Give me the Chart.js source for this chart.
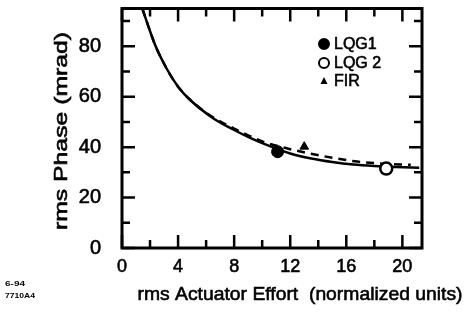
<!DOCTYPE html>
<html>
<head>
<meta charset="utf-8">
<script src="https://cdn.jsdelivr.net/npm/chart.js@4.4.0/dist/chart.umd.min.js"></script>
<style>
  html, body { margin: 0; padding: 0; background: #fff; }
</style>
</head>
<body>
<canvas id="myChart" width="465" height="315"></canvas>
<script>
// theory curve (solid)
const solidX = [1.45, 2.0, 2.4, 3.2, 4.0, 4.9, 6.5, 8.0, 9.1, 10.5, 12.0, 13.5, 15.0, 16.5, 18.0, 19.5, 21.2];
const solidY = [95, 86, 80, 71, 64, 58.5, 51.5, 46.8, 43.8, 40.5, 37.5, 35.5, 34.1, 33.1, 32.5, 32.1, 31.8];
// second curve (dashed)
const dashX = [1.45, 2.0, 2.4, 3.2, 4.0, 4.9, 6.5, 8.0, 9.0, 10.1, 12.0, 13.2, 15.0, 16.6, 18.0, 19.9, 20.6];
const dashY = [95, 86, 80, 71, 64, 58.6, 51.8, 47.4, 44.7, 42.1, 39.2, 37.7, 35.8, 34.4, 33.7, 33.1, 33.0];
// measured points
const pointLabels = ["LQG1", "LQG 2", "FIR"];
const pointX = [11.1, 18.85, 13.0];
const pointY = [38.2, 31.5, 40.2];
// axis ticks
const xTicks = [0, 4, 8, 12, 16, 20];
const xMinor = [2, 6, 10, 14, 18];
const yTicks = [0, 20, 40, 60, 80];
const yMinor = [10, 30, 50, 70, 90];

const FONT = "'Liberation Sans', Arial, Helvetica, sans-serif";

const toXY = (xs, ys) => xs.map((x, i) => ({ x: x, y: ys[i] }));

// box + inward tick marks, legend inside plot, axis titles
const frame = {
  id: "frame",
  beforeDatasetsDraw(chart) {
    const { ctx, chartArea: a, scales } = chart;
    ctx.save();
    ctx.strokeStyle = "#000";
    ctx.lineWidth = 2.5;
    ctx.lineCap = "butt";
    const xs = scales.x, ys = scales.y;
    const tick = (vals, len) => {
      vals.forEach(v => {
        const px = xs.getPixelForValue(v);
        ctx.beginPath();
        ctx.moveTo(px, a.bottom); ctx.lineTo(px, a.bottom - len);
        ctx.moveTo(px, a.top); ctx.lineTo(px, a.top + len);
        ctx.stroke();
      });
    };
    const ytick = (vals, len) => {
      vals.forEach(v => {
        const py = ys.getPixelForValue(v);
        ctx.beginPath();
        ctx.moveTo(a.left, py); ctx.lineTo(a.left + len, py);
        ctx.moveTo(a.right, py); ctx.lineTo(a.right - len, py);
        ctx.stroke();
      });
    };
    tick(xTicks, 13); tick(xMinor, 8);
    ytick(yTicks, 13); ytick(yMinor, 8);
    ctx.lineWidth = 3;
    ctx.strokeRect(a.left, a.top, a.right - a.left, a.bottom - a.top);
    ctx.restore();
  },
  afterDraw(chart) {
    const { ctx } = chart;
    ctx.save();
    ctx.fillStyle = "#000";
    ctx.strokeStyle = "#000";

    // legend for the three points
    const lx = 324, ly = [44, 63, 81];
    pointLabels.forEach((lab, i) => {
      const ds = chart.data.datasets[i];
      const y = ly[i];
      ctx.lineWidth = 2;
      ctx.beginPath();
      if (ds.pointStyle === "triangle") {
        ctx.moveTo(lx, y - 4); ctx.lineTo(lx + 3.5, y + 3); ctx.lineTo(lx - 3.5, y + 3); ctx.closePath();
        ctx.fill();
      } else {
        ctx.arc(lx, y, 5, 0, Math.PI * 2);
        ctx.fillStyle = ds.backgroundColor;
        ctx.fill();
        ctx.stroke();
        ctx.fillStyle = "#000";
      }
      ctx.font = "16px " + FONT;
      ctx.textAlign = "left";
      ctx.textBaseline = "middle";
      ctx.lineWidth = 0.6;
      ctx.fillText(lab, lx + 10, y + 1);
      ctx.strokeText(lab, lx + 10, y + 1);
    });

    const fitText = (txt, x, y, w, size, rot, weight, sw) => {
      ctx.save();
      ctx.font = (weight || "normal") + " " + size + "px " + FONT;
      const m = ctx.measureText(txt).width;
      ctx.translate(x, y);
      if (rot) ctx.rotate(rot);
      ctx.scale(w / m, 1);
      ctx.textAlign = "center";
      ctx.textBaseline = "middle";
      ctx.fillText(txt, 0, 0);
      if (sw) { ctx.lineWidth = sw; ctx.strokeText(txt, 0, 0); }
      ctx.restore();
    };
    fitText("rms Phase (mrad)", 62, 131, 198, 19, -Math.PI / 2, "normal", 0.6);
    fitText("rms Actuator Effort  (normalized units)", 300, 295, 325, 19, 0, "normal", 0.6);
    fitText("6-94", 15, 284, 20, 8, 0, "bold");
    fitText("7710A4", 20, 296, 30, 8, 0, "bold");
    ctx.restore();
  }
};

new Chart(document.getElementById("myChart").getContext("2d"), {
  type: "scatter",
  data: {
    datasets: [
      {
        label: pointLabels[0], data: [{ x: pointX[0], y: pointY[0] }], order: 0,
        pointStyle: "circle", pointRadius: 6, backgroundColor: "#000", borderColor: "#000", borderWidth: 1
      },
      {
        label: pointLabels[1], data: [{ x: pointX[1], y: pointY[1] }], order: 0,
        pointStyle: "circle", pointRadius: 6, backgroundColor: "#fff", borderColor: "#000", borderWidth: 2.5
      },
      {
        label: pointLabels[2], data: [{ x: pointX[2], y: pointY[2] }], order: 0,
        pointStyle: "triangle", pointRadius: 5, backgroundColor: "#000", borderColor: "#000", borderWidth: 1
      },
      {
        label: "solid", data: toXY(solidX, solidY), order: 1, showLine: true,
        borderColor: "#000", borderWidth: 2.5, pointRadius: 0, cubicInterpolationMode: "monotone"
      },
      {
        label: "dashed", data: toXY(dashX, dashY), order: 1, showLine: true, borderDash: [8, 6],
        borderColor: "#000", borderWidth: 2.5, pointRadius: 0, cubicInterpolationMode: "monotone"
      }
    ]
  },
  options: {
    responsive: false,
    animation: false,
    devicePixelRatio: 1,
    layout: { padding: { top: 6, right: 43, left: 0, bottom: 0 } },
    plugins: { legend: { display: false }, tooltip: { enabled: false } },
    scales: {
      x: {
        type: "linear", min: 0, max: 21.4,
        afterBuildTicks: s => { s.ticks = xTicks.map(v => ({ value: v })); },
        afterFit: s => { s.height = 67; s.paddingLeft = 0; s.paddingRight = 0; },
        grid: { display: false },
        border: { display: false },
        ticks: {
          color: "#000", font: { family: FONT, size: 18 }, padding: 0, maxRotation: 0, autoSkip: false,
          textStrokeColor: "#000", textStrokeWidth: 0.6
        }
      },
      y: {
        type: "linear", min: 0, max: 95,
        afterBuildTicks: s => { s.ticks = yTicks.map(v => ({ value: v })); },
        afterFit: s => { s.width = 122; s.paddingTop = 0; s.paddingBottom = 0; },
        grid: { display: false },
        border: { display: false },
        ticks: {
          color: "#000", font: { family: FONT, size: 20 }, padding: 13, autoSkip: false,
          textStrokeColor: "#000", textStrokeWidth: 0.6
        }
      }
    }
  },
  plugins: [frame]
});
</script>
</body>
</html>
